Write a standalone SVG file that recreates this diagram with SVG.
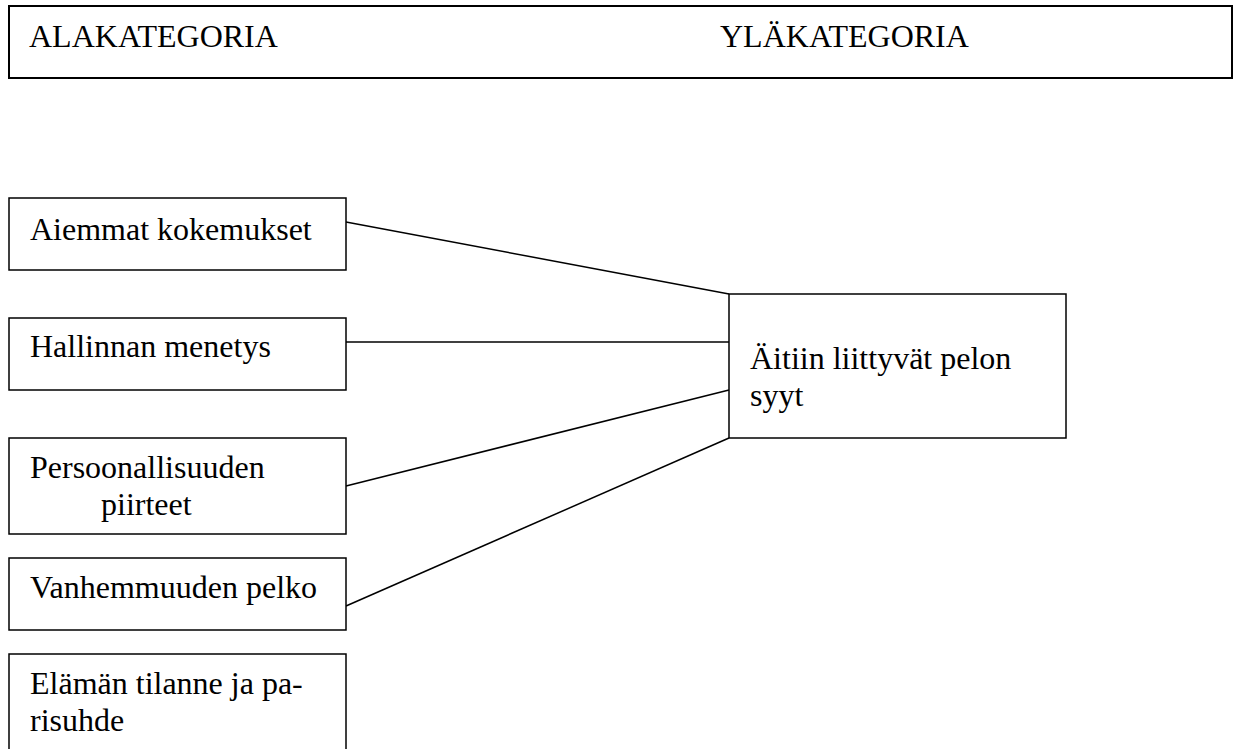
<svg xmlns="http://www.w3.org/2000/svg" width="1233" height="749" viewBox="0 0 1233 749">
  <style>
    .box { fill: #ffffff; stroke: #000000; stroke-width: 1.5; }
    .head { fill: #ffffff; stroke: #000000; stroke-width: 2; }
    .lbl { font-family: "Liberation Serif", "Times New Roman", serif; font-size: 32px; fill: #000000; }
    .link { stroke: #000000; stroke-width: 1.5; fill: none; }
  </style>
  <rect width="1233" height="749" fill="#ffffff"/>

  <!-- header row -->
  <g id="header">
    <rect class="head" x="9" y="6" width="1223" height="72"/>
    <text class="lbl" x="29" y="47">ALAKATEGORIA</text>
    <text class="lbl" x="720" y="47">YLÄKATEGORIA</text>
  </g>

  <!-- connectors -->
  <g id="connectors">
    <line class="link" x1="346" y1="222" x2="729" y2="294"/>
    <line class="link" x1="346" y1="342" x2="729" y2="342"/>
    <line class="link" x1="346" y1="486" x2="729" y2="390"/>
    <line class="link" x1="346" y1="606" x2="729" y2="438"/>
  </g>

  <!-- subcategories -->
  <g id="aiemmat">
    <rect class="box" x="9" y="198" width="337" height="72"/>
    <text class="lbl" x="30" y="240">Aiemmat kokemukset</text>
  </g>
  <g id="hallinnan">
    <rect class="box" x="9" y="318" width="337" height="72"/>
    <text class="lbl" x="30" y="357">Hallinnan menetys</text>
  </g>
  <g id="persoonallisuus">
    <rect class="box" x="9" y="438" width="337" height="96"/>
    <text class="lbl" x="30" y="478">Persoonallisuuden</text>
    <text class="lbl" x="101" y="515">piirteet</text>
  </g>
  <g id="vanhemmuus">
    <rect class="box" x="9" y="558" width="337" height="72"/>
    <text class="lbl" x="30" y="598">Vanhemmuuden pelko</text>
  </g>
  <g id="elamantilanne">
    <rect class="box" x="9" y="654" width="337" height="110"/>
    <text class="lbl" x="30" y="694">Elämän tilanne ja pa-</text>
    <text class="lbl" x="30" y="731">risuhde</text>
  </g>

  <!-- main category -->
  <g id="aitiin">
    <rect class="box" x="729" y="294" width="337" height="144"/>
    <text class="lbl" x="750" y="369">Äitiin liittyvät pelon</text>
    <text class="lbl" x="750" y="406">syyt</text>
  </g>
</svg>
